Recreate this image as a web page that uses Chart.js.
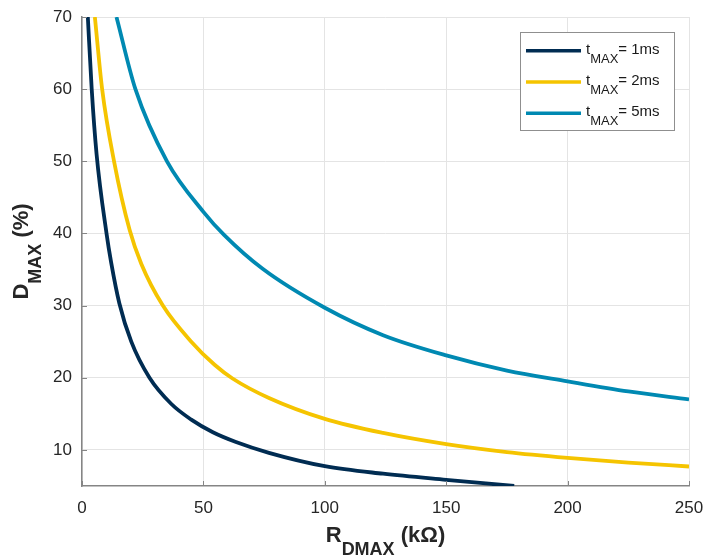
<!DOCTYPE html>
<html><head><meta charset="utf-8">
<script src="https://cdn.jsdelivr.net/npm/chart.js@4.4.1/dist/chart.umd.min.js"></script>
<style>html,body{margin:0;padding:0;background:#fff;}#wrap{width:705px;height:555px;position:relative;}</style>
</head><body><div id="wrap"><canvas id="c" width="705" height="555"></canvas></div>
<script>
// ---- data ----
const xTicks = [0, 50, 100, 150, 200, 250];
const yTicks = [10, 20, 30, 40, 50, 60, 70];
const seriesLabels = ['1ms', '2ms', '5ms'];

const r1 = [2.4, 4.0, 6.0, 10.1, 12.0, 15.4, 20.3, 27.8, 36.7, 45, 53.9, 63.4, 77, 100, 124, 150, 178];
const d1 = [70, 60, 51, 40, 36, 30.3, 25.0, 20, 16.4, 14.2, 12.45, 11.1, 9.6, 7.75, 6.7, 5.85, 5.0];

const r2 = [5.3, 8.3, 13.2, 19.6, 24.4, 33.3, 45, 54.6, 62, 77, 100, 124, 150, 175, 200, 225, 250];
const d2 = [70, 60, 50, 40.5, 35.8, 30, 25.0, 21.8, 19.9, 17.2, 14.3, 12.35, 10.8, 9.7, 8.9, 8.25, 7.7];

const r5 = [14.2, 22, 35, 50, 58.5, 74.4, 100, 124, 150, 175, 200, 225, 250];
const d5 = [70, 60, 50, 43, 39.8, 35.1, 29.7, 25.9, 23.1, 21.0, 19.5, 18.1, 17.0];

// ---- styling ----
const FONT = "'Liberation Sans', Arial, sans-serif";
const colors = ['#002c52', '#f5c400', '#0089b2'];
const AXIS = '#858585';
const GRID = '#e4e4e4';

function pts(xs, ys) { return xs.map((x, i) => ({ x: x, y: ys[i] })); }
const seriesData = [pts(r1, d1), pts(r2, d2), pts(r5, d5)];

const decor = {
  id: 'decor',
  afterDraw(chart) {
    const ctx = chart.ctx;
    const xs = chart.scales.x, ys = chart.scales.y;
    const a = chart.chartArea;
    ctx.save();
    // inside tick marks
    ctx.strokeStyle = AXIS; ctx.lineWidth = 1;
    xTicks.forEach(v => {
      const px = Math.round(xs.getPixelForValue(v)) + 0.5;
      ctx.beginPath(); ctx.moveTo(px, a.bottom); ctx.lineTo(px, a.bottom - 5); ctx.stroke();
    });
    yTicks.forEach(v => {
      const py = Math.round(ys.getPixelForValue(v)) + 0.5;
      ctx.beginPath(); ctx.moveTo(a.left, py); ctx.lineTo(a.left + 5, py); ctx.stroke();
    });

    // axis titles
    ctx.fillStyle = '#262626';
    ctx.textBaseline = 'alphabetic';
    ctx.textAlign = 'left';
    const big = 'bold 22px ' + FONT, small = 'bold 18px ' + FONT;
    function measure(parts) {
      let w = 0;
      parts.forEach(p => { ctx.font = p.sub ? small : big; w += ctx.measureText(p.t).width; });
      return w;
    }
    function drawParts(parts, x0, base) {
      let x = x0;
      parts.forEach(p => {
        ctx.font = p.sub ? small : big;
        ctx.fillText(p.t, x, base + (p.sub ? 13 : 0));
        x += ctx.measureText(p.t).width;
      });
    }
    const xt = [{ t: 'R' }, { t: 'DMAX', sub: true }, { t: ' (k\u03A9)' }];
    const cx = (a.left + a.right) / 2;
    drawParts(xt, cx - measure(xt) / 2, 542);

    const yt = [{ t: 'D' }, { t: 'MAX', sub: true }, { t: ' (%)' }];
    ctx.save();
    ctx.translate(28, (a.top + a.bottom) / 2);
    ctx.rotate(-Math.PI / 2);
    drawParts(yt, -measure(yt) / 2, 0);
    ctx.restore();

    // legend
    const lx = 520.5, ly = 32.5, lw = 154, lh = 98;
    ctx.fillStyle = '#ffffff';
    ctx.fillRect(lx, ly, lw, lh);
    ctx.strokeStyle = '#8f8f8f'; ctx.lineWidth = 1;
    ctx.strokeRect(lx, ly, lw, lh);
    const rowY = [50.7, 82, 113.3];
    seriesLabels.forEach((lab, i) => {
      const y = rowY[i];
      ctx.strokeStyle = colors[i]; ctx.lineWidth = 3.5;
      ctx.beginPath(); ctx.moveTo(526, y); ctx.lineTo(581, y); ctx.stroke();
      ctx.fillStyle = '#1a1a1a';
      let x = 586;
      ctx.font = '15px ' + FONT;
      ctx.fillText('t', x, y + 2.8); x += ctx.measureText('t').width;
      ctx.font = '13px ' + FONT;
      ctx.fillText('MAX', x, y + 11.8); x += ctx.measureText('MAX').width;
      ctx.font = '15px ' + FONT;
      ctx.fillText('= ' + lab, x, y + 2.8);
    });
    ctx.restore();
  }
};

const chart = new Chart(document.getElementById('c'), {
  type: 'scatter',
  data: {
    datasets: seriesData.map((d, i) => ({
      label: 'tMAX= ' + seriesLabels[i],
      data: d,
      showLine: true,
      borderColor: colors[i],
      backgroundColor: colors[i],
      borderWidth: 3.8,
      pointRadius: 0,
      pointHoverRadius: 0,
      cubicInterpolationMode: 'monotone',
      fill: false
    }))
  },
  options: {
    responsive: false,
    devicePixelRatio: 1,
    animation: false,
    events: [],
    layout: { padding: { left: 0, right: 16, top: 17, bottom: 0 } },
    plugins: { legend: { display: false }, tooltip: { enabled: false }, title: { display: false } },
    scales: {
      x: {
        type: 'linear', min: 0, max: 250,
        afterBuildTicks: s => { s.ticks = xTicks.map(v => ({ value: v })); },
        afterFit: s => { s.height = 69; s.paddingLeft = 0; s.paddingRight = 0; },
        grid: { color: GRID, lineWidth: 1, drawTicks: false },
        border: { display: true, color: AXIS, width: 1.5 },
        ticks: { color: '#262626', font: { family: FONT, size: 17 }, padding: 12, maxRotation: 0 }
      },
      y: {
        type: 'linear', min: 5, max: 70,
        afterBuildTicks: s => { s.ticks = yTicks.map(v => ({ value: v })); },
        afterFit: s => { s.width = 82; s.paddingTop = 0; s.paddingBottom = 0; },
        grid: { color: GRID, lineWidth: 1, drawTicks: false },
        border: { display: true, color: AXIS, width: 1.5 },
        ticks: { color: '#262626', font: { family: FONT, size: 17 }, padding: 10 }
      }
    }
  },
  plugins: [decor]
});

// align plot area with the reference frame
(function () {
  let r = 16, t = 17;
  for (let k = 0; k < 4; k++) {
    const ca = chart.chartArea;
    const dr = ca.right - 689, dt = 17 - ca.top;
    if (Math.abs(dr) < 0.5 && Math.abs(dt) < 0.5) break;
    r = Math.max(0, r + dr);
    t = Math.max(0, t + dt);
    chart.config.options.layout.padding = { left: 0, right: r, top: t, bottom: 0 };
    chart.update();
  }
})();
</script>
</body></html>
